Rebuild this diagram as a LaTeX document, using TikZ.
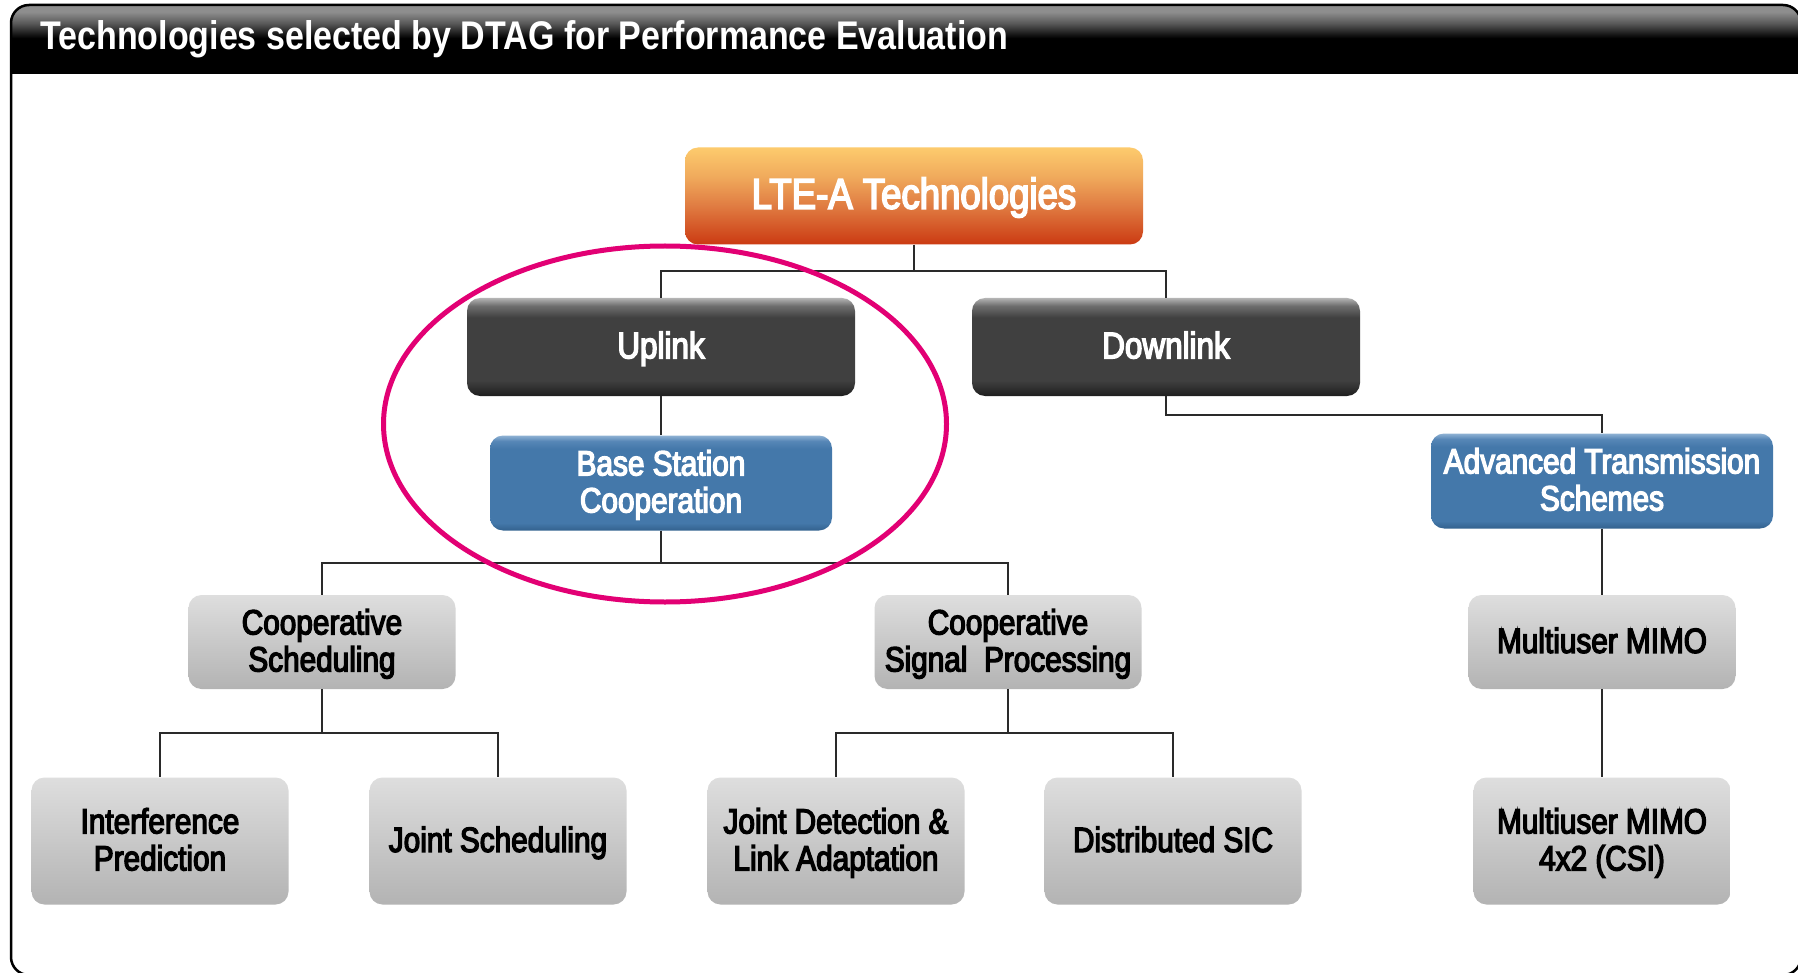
\documentclass[tikz,border=0pt]{standalone}
\usepackage{fontspec}
\setmainfont{Liberation Sans}
\newfontfamily\nodefont[FakeStretch=0.85,FakeBold=3.8]{Liberation Sans}
\newfontfamily\ttlfont[FakeStretch=0.85]{Liberation Sans}
\usetikzlibrary{shapes.geometric}
\newcommand\tx[1]{\raisebox{-3.5pt}[\height][\depth]{\begin{tabular}{@{}c@{}}#1\end{tabular}}}
\definecolor{tmag}{HTML}{E20074}
\definecolor{lnk}{HTML}{2A2A2A}
\definecolor{hdrTop}{HTML}{8E8E8E}
\definecolor{hdrMid}{HTML}{5A5A5A}
\definecolor{dkTop}{HTML}{B4B4B4}
\definecolor{dkUp}{HTML}{6E6E6E}
\definecolor{dkMid}{HTML}{404040}
\definecolor{dkBot}{HTML}{1E1E1E}
\definecolor{blTop}{HTML}{8FB2D4}
\definecolor{blUp}{HTML}{5686B6}
\definecolor{blMid}{HTML}{4478AA}
\definecolor{blBot}{HTML}{33628E}
\definecolor{orTop}{HTML}{FDCB6D}
\definecolor{orA}{HTML}{F0AA5C}
\definecolor{orB}{HTML}{E07C42}
\definecolor{orBot}{HTML}{CB3A12}
\definecolor{grTop}{HTML}{DEDEDE}
\definecolor{grBot}{HTML}{B3B3B3}
\pgfdeclareverticalshading{hdrshade}{100bp}{color(0bp)=(black); color(51bp)=(black); color(62bp)=(hdrMid); color(70bp)=(hdrTop); color(100bp)=(hdrTop)}
\pgfdeclareverticalshading{darkgloss}{100bp}{color(0bp)=(dkBot); color(25bp)=(dkBot); color(33bp)=(dkMid); color(65bp)=(dkMid); color(71bp)=(dkUp); color(75bp)=(dkTop); color(100bp)=(dkTop)}
\pgfdeclareverticalshading{bluegloss}{100bp}{color(0bp)=(blBot); color(25bp)=(blBot); color(29bp)=(blMid); color(68bp)=(blMid); color(72bp)=(blUp); color(75bp)=(blTop); color(100bp)=(blTop)}
\pgfdeclareverticalshading{orangegloss}{100bp}{color(0bp)=(orBot); color(25bp)=(orBot); color(45bp)=(orB); color(60bp)=(orA); color(75bp)=(orTop); color(100bp)=(orTop)}
\pgfdeclareverticalshading{graygloss}{100bp}{color(0bp)=(grBot); color(25bp)=(grBot); color(75bp)=(grTop); color(100bp)=(grTop)}
\tikzset{
  box/.style={rounded corners=13pt, inner sep=0pt},
  ltebox/.style={box, shading=orangegloss, text=white, minimum width=458pt, minimum height=97pt, font=\nodefont\fontsize{43}{46}\selectfont},
  darkbox/.style={box, shading=darkgloss, text=white, minimum width=388pt, minimum height=98pt, font=\nodefont\fontsize{37}{39}\selectfont},
  bluebox/.style={box, shading=bluegloss, text=white, minimum width=342pt, minimum height=95pt, font=\nodefont\fontsize{35}{37}\selectfont},
  graybox/.style={box, shading=graygloss, text=black, minimum width=267pt, minimum height=94pt, font=\nodefont\fontsize{35}{37}\selectfont},
  leafbox/.style={graybox, minimum width=257pt, minimum height=127pt},
  link/.style={draw=lnk, line width=1.5pt},
  ring/.style={draw=tmag, line width=5pt, ellipse, inner sep=0pt}
}
\begin{document}
\begin{tikzpicture}[x=1pt,y=-1pt]
\useasboundingbox (0,0) rectangle (1798,973);
% frame and header
\begin{scope}
  \clip[rounded corners=18pt] (11,5) rectangle (1801,975);
  \fill[white] (11,5) rectangle (1801,975);
  \shade[shading=hdrshade] (11,5) rectangle (1801,74);
\end{scope}
\draw[line width=2.5pt, rounded corners=18pt] (11,5) rectangle (1801,975);
\node[anchor=base west, text=white, inner sep=0pt, font=\ttlfont\bfseries\fontsize{40}{42}\selectfont] (title) at (40,50) {Technologies selected by DTAG for Performance Evaluation};
% nodes
\node[ltebox] (lte) at (914,196) {\tx{LTE-A Technologies}};
\node[darkbox] (up) at (661,347) {\tx{Uplink}};
\node[darkbox] (down) at (1166,347) {\tx{Downlink}};
\node[bluebox] (bsc) at (661,483) {\tx{Base Station\\Cooperation}};
\node[bluebox] (ats) at (1602,481) {\tx{Advanced Transmission\\Schemes}};
\node[graybox] (cs) at (322,642) {\tx{Cooperative\\Scheduling}};
\node[graybox] (csp) at (1008,642) {\tx{Cooperative\\Signal~~Processing}};
\node[graybox] (mm) at (1602,642) {\tx{Multiuser MIMO}};
\node[leafbox] (ip) at (160,841) {\tx{Interference\\Prediction}};
\node[leafbox] (js) at (498,841) {\tx{Joint Scheduling}};
\node[leafbox] (jd) at (836,841) {\tx{Joint Detection \&\\Link Adaptation}};
\node[leafbox] (ds) at (1173,841) {\tx{Distributed SIC}};
\node[leafbox] (mm4) at (1602,841) {\tx{Multiuser MIMO\\4x2 (CSI)}};
% junctions
\coordinate (j1) at (914,271);
\coordinate (j2) at (1166,415);
\coordinate (j3) at (661,563);
\coordinate (j4) at (322,733);
\coordinate (j5) at (1008,733);
% connectors
\draw[link] (lte.south) -- (j1) -| (up.north);
\draw[link] (j1) -| (down.north);
\draw[link] (up.south) -- (bsc.north);
\draw[link] (down.south) -- (j2) -| (ats.north);
\draw[link] (bsc.south) -- (j3) -| (cs.north);
\draw[link] (j3) -| (csp.north);
\draw[link] (ats.south) -- (mm.north);
\draw[link] (mm.south) -- (mm4.north);
\draw[link] (cs.south) -- (j4) -| (ip.north);
\draw[link] (j4) -| (js.north);
\draw[link] (csp.south) -- (j5) -| (jd.north);
\draw[link] (j5) -| (ds.north);
% highlight ring
\node[ring, minimum width=563pt, minimum height=356pt] (hl) at (665,424) {};
\end{tikzpicture}
\end{document}
